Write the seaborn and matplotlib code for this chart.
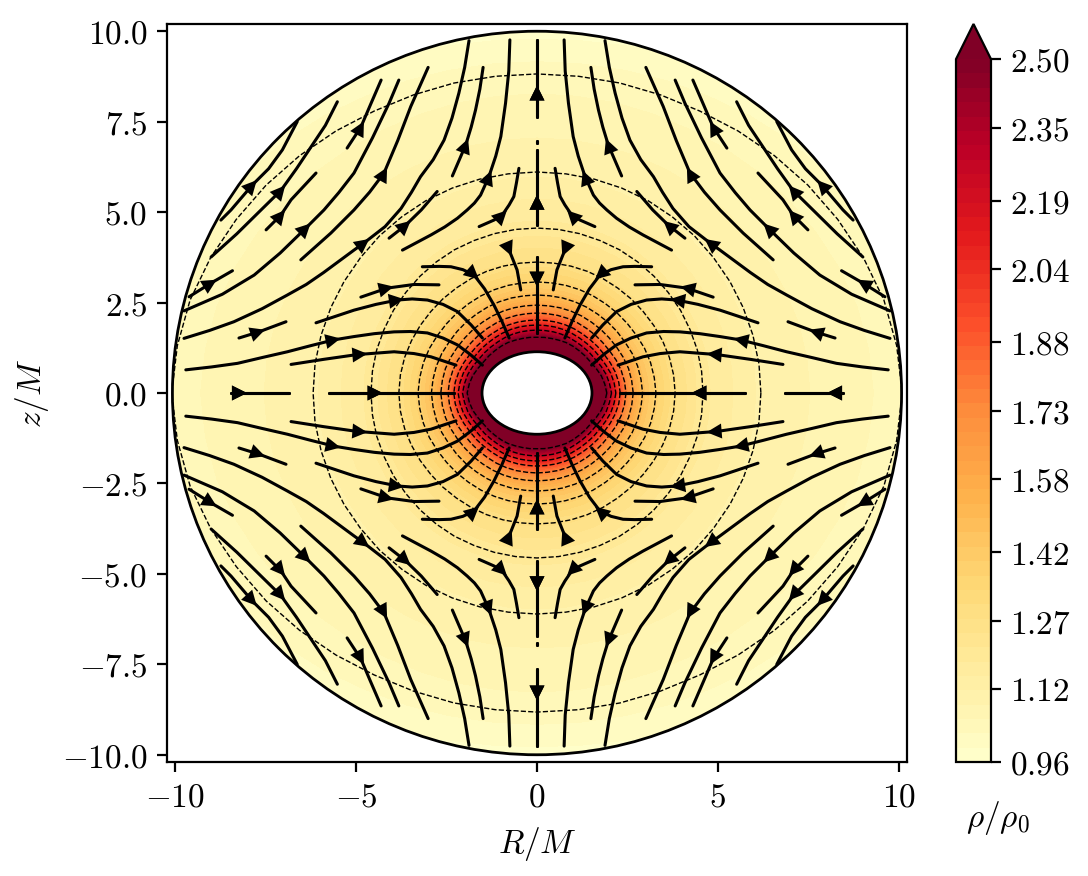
import numpy as np
import pandas as pd
import matplotlib
matplotlib.use('Agg')
import matplotlib.pyplot as plt
import seaborn as sns
from matplotlib.patches import Ellipse

# density: radius of every density level, per polar angle
angle_step = 7.5
rho_levels = [2.60, 2.50, 2.25, 2.08, 1.92, 1.76, 1.61, 1.48, 1.38, 1.28, 1.19, 1.11, 1.04, 0.96]
radius_rho_260 = [1.00, 1.00, 1.00, 1.00, 1.00, 1.00, 1.00, 1.00, 1.00, 1.00, 1.00, 1.00, 1.00]
radius_rho_250 = [1.93, 1.89, 1.84, 1.77, 1.71, 1.68, 1.65, 1.63, 1.61, 1.58, 1.56, 1.55, 1.54]
radius_rho_225 = [2.06, 2.02, 1.98, 1.92, 1.86, 1.83, 1.80, 1.78, 1.77, 1.76, 1.75, 1.74, 1.74]
radius_rho_208 = [2.18, 2.15, 2.11, 2.05, 2.00, 1.97, 1.94, 1.92, 1.91, 1.90, 1.89, 1.88, 1.88]
radius_rho_192 = [2.30, 2.28, 2.24, 2.19, 2.14, 2.11, 2.08, 2.06, 2.05, 2.04, 2.03, 2.02, 2.02]
radius_rho_176 = [2.46, 2.44, 2.41, 2.37, 2.32, 2.29, 2.27, 2.25, 2.24, 2.23, 2.22, 2.21, 2.21]
radius_rho_161 = [2.66, 2.64, 2.62, 2.58, 2.54, 2.51, 2.49, 2.47, 2.46, 2.45, 2.44, 2.43, 2.43]
radius_rho_148 = [2.92, 2.90, 2.88, 2.85, 2.81, 2.79, 2.77, 2.75, 2.74, 2.73, 2.72, 2.71, 2.71]
radius_rho_138 = [3.29, 3.27, 3.25, 3.22, 3.18, 3.15, 3.13, 3.11, 3.10, 3.09, 3.08, 3.07, 3.07]
radius_rho_128 = [3.82, 3.81, 3.79, 3.76, 3.73, 3.70, 3.68, 3.66, 3.65, 3.64, 3.63, 3.62, 3.62]
radius_rho_119 = [4.59, 4.59, 4.59, 4.58, 4.58, 4.57, 4.57, 4.57, 4.57, 4.56, 4.56, 4.56, 4.56]
radius_rho_111 = [6.19, 6.19, 6.18, 6.17, 6.16, 6.15, 6.15, 6.14, 6.14, 6.13, 6.12, 6.11, 6.11]
radius_rho_104 = [10.10, 10.03, 9.93, 9.77, 9.60, 9.44, 9.28, 9.13, 9.00, 8.92, 8.87, 8.83, 8.82]
radius_rho_096 = [13.00, 13.00, 13.00, 12.80, 12.50, 12.20, 12.00, 11.60, 11.20, 10.90, 10.60, 10.45, 10.40]

# streamlines of the upper right quadrant, the flow runs from the last point to the first
line_01 = [(0, 9.76), (0, 8.32), (0, 7.64)]
line_02 = [(0, 6.72), (0, 5.30), (0, 4.64)]
line_03 = [(0, 1.66), (0, 3.12), (0, 3.76)]
line_04 = [(0.75, 9.76), (0.78, 8.90), (0.87, 8.01), (1.00, 7.09), (1.14, 6.55), (1.33, 5.98), (1.56, 5.47),
           (1.73, 5.25), (1.93, 5.06), (2.20, 4.83), (2.55, 4.59), (2.93, 4.37), (3.72, 3.95)]
line_05 = [(0.50, 6.21), (0.57, 5.80), (0.64, 5.43), (0.77, 5.20), (0.96, 4.92), (1.19, 4.78), (1.60, 4.60)]
line_06 = [(1.49, 9.00), (1.58, 8.40), (1.70, 7.82), (1.82, 7.35), (1.97, 6.86), (2.34, 6.00)]
line_07 = [(1.88, 9.74), (2.00, 9.00), (2.16, 8.29), (2.35, 7.60), (2.57, 6.99), (2.87, 6.45), (3.22, 5.98),
           (3.47, 5.55), (3.76, 5.10), (4.20, 4.60), (4.78, 4.15), (5.06, 3.95), (5.90, 3.33), (6.38, 3.00),
           (6.90, 2.71), (7.60, 2.33), (8.38, 1.97), (9.05, 1.73), (9.76, 1.51)]
line_08 = [(3.01, 9.00), (3.49, 7.92), (3.85, 6.98), (4.23, 6.08), (4.63, 5.55), (5.06, 5.06), (5.70, 4.42), (6.53, 3.68)]
line_09 = [(3.82, 8.65), (4.09, 8.01), (4.55, 7.05), (5.06, 6.08), (5.48, 5.54), (5.89, 5.06), (6.39, 4.56),
           (7.10, 3.87), (7.82, 3.26), (8.70, 2.73), (9.76, 2.27)]
line_10 = [(4.31, 8.65), (4.60, 7.98), (4.87, 7.35), (5.25, 6.77)]
line_11 = [(5.52, 8.05), (5.85, 7.40), (6.25, 6.80), (6.65, 6.20), (7.08, 5.60), (7.63, 5.06), (8.30, 4.40), (9.01, 3.76)]
line_12 = [(6.63, 7.50), (7.04, 6.72), (7.42, 6.20), (7.87, 5.75), (8.46, 5.06), (8.74, 4.78)]
line_13 = [(6.11, 6.08), (6.80, 5.34), (7.08, 4.92), (7.49, 4.51)]
line_14 = [(2.76, 5.57), (3.20, 5.06), (3.63, 4.64), (4.09, 4.28)]
line_15 = [(8.42, 3.38), (9.01, 3.04), (9.62, 2.66)]
line_16 = [(6.94, 1.97), (7.69, 1.69), (8.24, 1.52)]
line_17 = [(2.71, 2.99), (3.40, 3.00), (4.14, 2.90), (4.87, 2.65)]
line_18 = [(1.51, 1.52), (1.82, 1.88), (2.20, 2.25), (2.60, 2.45), (3.03, 2.57), (3.45, 2.60), (3.86, 2.57),
           (4.45, 2.45), (5.06, 2.29), (6.11, 1.94)]
line_19 = [(0.45, 2.85), (0.55, 3.40), (0.77, 3.95), (0.85, 4.10)]
line_20 = [(0.77, 1.52), (0.97, 1.98), (1.19, 2.43), (1.45, 2.88), (1.74, 3.26), (2.05, 3.41), (2.38, 3.49),
           (2.70, 3.50), (3.17, 3.49)]
line_21 = [(1.51, 0.77), (1.85, 1.07), (2.20, 1.33), (2.60, 1.52), (3.03, 1.66), (3.50, 1.70), (3.95, 1.69),
           (4.50, 1.64), (5.06, 1.56), (5.61, 1.47), (6.25, 1.31), (6.90, 1.14), (7.60, 0.98), (8.28, 0.82),
           (9.00, 0.72), (9.71, 0.64)]
line_22 = [(2.24, 0.77), (2.93, 1.00), (3.40, 1.09), (3.95, 1.14), (4.87, 1.07), (5.06, 1.05), (5.90, 0.93), (6.80, 0.79)]
line_23 = [(2.30, 0), (4.45, 0), (5.75, 0)]
line_24 = [(6.86, 0), (8.20, 0), (8.46, 0)]
line_25 = [(0, 6.96), (0, 6.92)]

streamlines = [line_01, line_02, line_03, line_04, line_05, line_06, line_07, line_08, line_09, line_10, line_11,
               line_12, line_13, line_14, line_15, line_16, line_17, line_18, line_19, line_20, line_21, line_22,
               line_23, line_24, line_25]
# which point of each line carries the arrow head
arrow_points = [1, 1, 1, 5, 4, 4, 10, 3, 6, 2, 4, 3, 2, 2, 1, 1, 2, 6, 2, 4, 9, 4, 1, 1, None]

r_ticks = [-10, -5, 0, 5, 10]
z_ticks = [-10.0, -7.5, -5.0, -2.5, 0.0, 2.5, 5.0, 7.5, 10.0]
cbar_ticks = [0.96, 1.12, 1.27, 1.42, 1.58, 1.73, 1.88, 2.04, 2.19, 2.35, 2.50]

outer_radii = (10.08, 10.0)
hole_radii = (1.52, 1.14)

sns.set_theme(style='ticks', rc={'axes.edgecolor': 'black', 'xtick.color': 'black', 'ytick.color': 'black',
                                 'axes.labelcolor': 'black', 'text.color': 'black'})
plt.rcParams.update({'mathtext.fontset': 'cm', 'font.size': 12, 'axes.linewidth': 0.8, 'xtick.major.width': 0.8,
                     'ytick.major.width': 0.8, 'xtick.major.size': 3.5, 'ytick.major.size': 3.5,
                     'xtick.labelsize': 12, 'ytick.labelsize': 12, 'axes.labelsize': 12})
plt.rcParams['font.family'] = ['DejaVu Serif']

# Сетка плотности: строка - уровень, столбец - угол
radius_table = np.array([radius_rho_260, radius_rho_250, radius_rho_225, radius_rho_208, radius_rho_192,
                         radius_rho_176, radius_rho_161, radius_rho_148, radius_rho_138, radius_rho_128,
                         radius_rho_119, radius_rho_111, radius_rho_104, radius_rho_096])
full_radii = np.hstack([radius_table, radius_table[:, -2::-1], radius_table[:, 1:], radius_table[:, -2::-1]])
full_angles = np.radians(np.arange(full_radii.shape[1]) * angle_step)
grid_r = full_radii * np.cos(full_angles)
grid_z = full_radii * np.sin(full_angles)
grid_rho = np.repeat(np.array(rho_levels)[:, None], full_radii.shape[1], axis=1)

# Все линии тока: зеркально по четырём квадрантам
rows = []
arrows = []
line_id = 0
for points, arrow_point in zip(streamlines, arrow_points):
    for sign_r in (1, -1):
        for sign_z in (1, -1):
            pts = np.array(points, dtype=float) * [sign_r, sign_z]
            for p in pts:
                rows.append({'r': p[0], 'z': p[1], 'line': line_id})
            line_id += 1
            if arrow_point is not None:
                step = pts[arrow_point - 1] - pts[arrow_point + 1]
                arrows.append((pts[arrow_point], step / np.hypot(*step)))
lines_df = pd.DataFrame(rows)

fig = plt.figure(figsize=(5.44, 4.38), dpi=200)
ax = fig.add_axes([167 / 1088, 114 / 876, 740 / 1088, 738 / 876])
cax = fig.add_axes([956 / 1088, 114 / 876, 35 / 1088, 738 / 876])

cmap = sns.color_palette('YlOrRd', as_cmap=True)
cf = ax.contourf(grid_r, grid_z, grid_rho, levels=np.linspace(0.96, 2.5, 50), cmap=cmap, extend='max')
cl = ax.contour(grid_r, grid_z, grid_rho, levels=sorted(rho_levels[1:-1]), colors='black',
                linewidths=0.5, linestyles='--')

outer = Ellipse((0, 0), 2 * outer_radii[0], 2 * outer_radii[1], fill=False, edgecolor='black', lw=1.0, zorder=5)
ax.add_patch(outer)
cf.set_clip_path(outer)
cl.set_clip_path(outer)
ax.add_patch(Ellipse((0, 0), 2 * hole_radii[0], 2 * hole_radii[1], facecolor='white', edgecolor='black', lw=1.0, zorder=5))

sns.lineplot(data=lines_df, x='r', y='z', units='line', estimator=None, sort=False, color='black',
             linewidth=1.1, legend=False, ax=ax, zorder=4)
for where, direction in arrows:
    ax.annotate('', xy=where + 0.18 * direction, xytext=where - 0.18 * direction, zorder=4,
                arrowprops=dict(arrowstyle='-|>', mutation_scale=13.5, color='black', lw=0, shrinkA=0, shrinkB=0))

ax.set_xlim(-10.23, 10.23)
ax.set_ylim(-10.2, 10.2)
ax.set_xticks(r_ticks, [f'${v}$' for v in r_ticks])
ax.set_yticks(z_ticks, [f'${v:.1f}$' for v in z_ticks])
ax.set_xlabel(r'$R/M$', labelpad=4)
ax.set_ylabel(r'$z/M$', labelpad=4)

cbar = fig.colorbar(cf, cax=cax, extend='max', extendfrac=0.05, ticks=cbar_ticks)
cbar.ax.set_yticklabels([f'${v:.2f}$' for v in cbar_ticks])
cbar.outline.set_linewidth(0.8)
cbar.outline.set_edgecolor('black')
fig.text(998 / 1088, 1 - 818 / 876, r'$\rho/\rho_0$', ha='center', va='center', fontsize=12)

fig.savefig('out.png', dpi=200)
plt.close(fig)
